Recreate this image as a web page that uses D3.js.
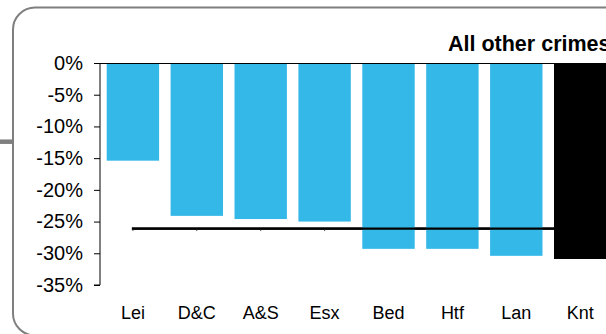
<!DOCTYPE html>
<html>
<head>
<meta charset="utf-8">
<script src="https://cdn.jsdelivr.net/npm/d3@7"></script>
<style>
html,body{margin:0;padding:0;background:#fff;overflow:hidden;}
svg{display:block;font-family:"Liberation Sans",Arial,Helvetica,sans-serif;}
</style>
</head>
<body>
<svg id="chart" width="606" height="334"></svg>
<script>
const categories = ["Lei","D&C","A&S","Esx","Bed","Htf","Lan","Knt"];
const values = [-15.4,-24.1,-24.6,-25.0,-29.3,-29.3,-30.4,-30.9];
const highlight = ["Knt"];
const average = -26.1;
const yTicks = [0,-5,-10,-15,-20,-25,-30,-35];
const title = "All other crimes";

const svg = d3.select("#chart");

// frame
svg.append("rect").attr("x",13).attr("y",7.5).attr("width",640).attr("height",328)
  .attr("rx",22).attr("ry",22).attr("fill","none").attr("stroke","#7f7f7f").attr("stroke-width",2);
svg.append("line").attr("x1",0).attr("x2",13).attr("y1",141.7).attr("y2",141.7)
  .attr("stroke","#7f7f7f").attr("stroke-width",4.5);

const x = d3.scaleBand().domain(categories).range([100,613.1]).paddingInner(0.18).paddingOuter(0.105);
const y = d3.scaleLinear().domain([0,-35]).range([63,285]);
const cx = d=>x(d)+x.bandwidth()/2;

// average line (drawn first, bars of highlight cover it)
svg.append("line").attr("x1",cx(categories[0])-1).attr("x2",cx(categories[categories.length-1]))
  .attr("y1",y(average)).attr("y2",y(average)).attr("stroke","#000").attr("stroke-width",2.2);
svg.append("g").selectAll("line").data(categories).join("line")
  .attr("x1",d=>cx(d)).attr("x2",d=>cx(d)).attr("y1",y(average)).attr("y2",y(average)+2.5)
  .attr("stroke","#555").attr("stroke-width",1);

// bars
svg.append("g").selectAll("rect").data(categories).join("rect")
  .attr("x",d=>x(d)).attr("width",x.bandwidth())
  .attr("y",y(0)).attr("height",(d,i)=>y(values[i])-y(0))
  .attr("fill",d=>highlight.includes(d)?"#000000":"#33b8e8");

// average line over the blue bars
svg.append("line").attr("x1",cx(categories[0])-1).attr("x2",x(categories[categories.length-1]))
  .attr("y1",y(average)).attr("y2",y(average)).attr("stroke","#000").attr("stroke-width",2.2);

// zero line (top axis)
svg.append("line").attr("x1",100).attr("x2",620).attr("y1",y(0)).attr("y2",y(0))
  .attr("stroke","#000").attr("stroke-width",1).attr("shape-rendering","crispEdges");

// y axis
const yAxis = d3.axisLeft(y).tickValues(yTicks).tickFormat(d=>d+"%").tickSize(6).tickPadding(11);
const gy = svg.append("g").attr("transform","translate(100,0)").call(yAxis);
gy.select(".domain").attr("stroke","#000").attr("d","M-6,"+y(-35)+"H0V"+y(0));
gy.selectAll(".tick line").attr("stroke","#000");
gy.selectAll(".tick text").attr("font-size",20).attr("fill","#000")
  .attr("font-family","'Liberation Sans',Arial,sans-serif");

// x labels
svg.append("g").selectAll("text").data(categories).join("text")
  .attr("x",d=>cx(d)).attr("y",319)
  .attr("text-anchor","middle").attr("font-size",18).attr("fill","#000").text(d=>d);

// title
svg.append("text").attr("x",448).attr("y",51).attr("font-size",21.5).attr("font-weight","bold")
  .attr("fill","#000").text(title);
</script>
</body>
</html>
